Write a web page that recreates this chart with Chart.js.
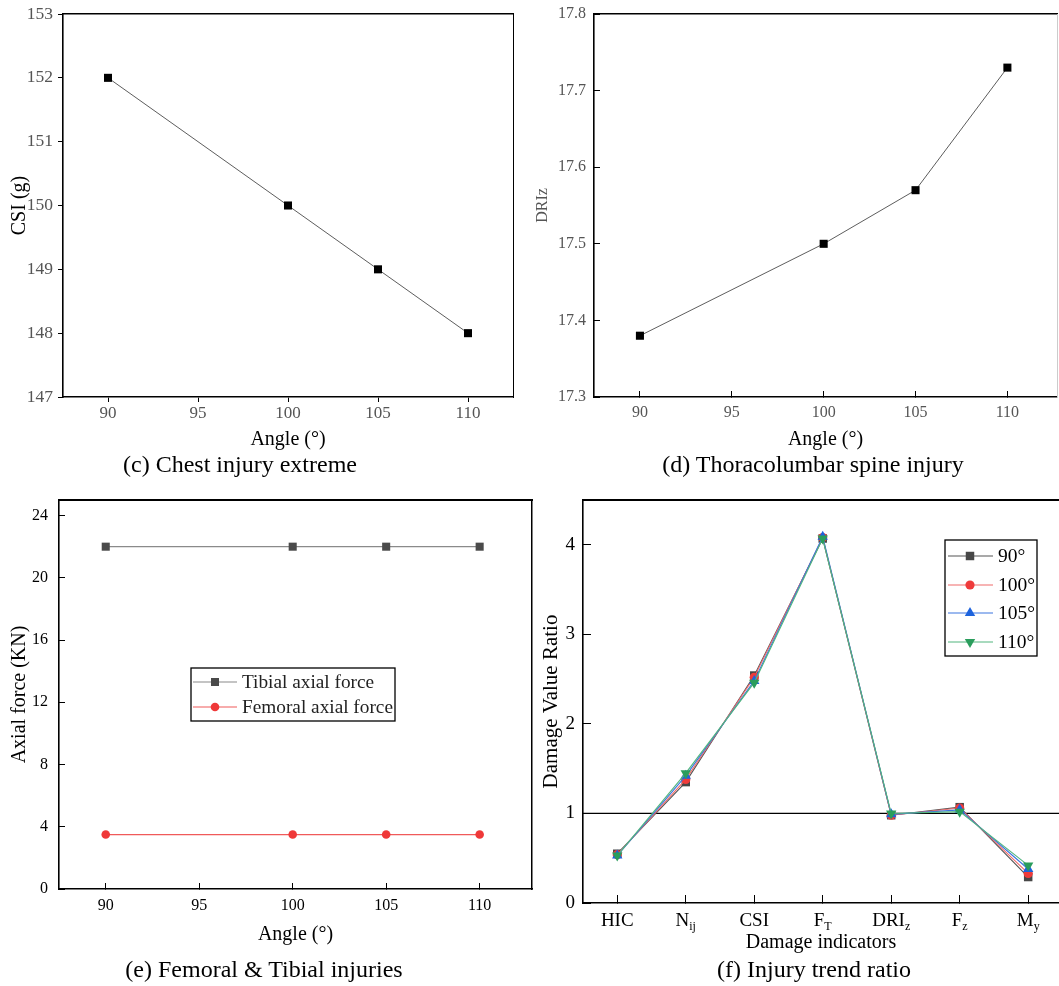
<!DOCTYPE html>
<html>
<head>
<meta charset="utf-8">
<title>Injury indicators versus seat angle</title>
<script src="https://cdn.jsdelivr.net/npm/chart.js@4.4.1/dist/chart.umd.min.js"></script>
<style>
  html, body { margin: 0; padding: 0; background: #fff; width: 1059px; height: 986px; overflow: hidden; }
  canvas { position: absolute; left: 0; top: 0; }
  .cap {
    position: absolute; white-space: nowrap; transform: translateX(-50%);
    font-family: "Liberation Serif", "Times New Roman", serif; font-size: 24px; line-height: 24px; color: #000;
  }
</style>
</head>
<body>
<canvas id="chestChart" width="1059" height="986"></canvas>
<canvas id="spineChart" width="1059" height="986"></canvas>
<canvas id="legChart" width="1059" height="986"></canvas>
<canvas id="ratioChart" width="1059" height="986"></canvas>

<div class="cap" style="left:240px; top:452px;">(c) Chest injury extreme</div>
<div class="cap" style="left:813px; top:452px;">(d) Thoracolumbar spine injury</div>
<div class="cap" style="left:264px; top:957px;">(e) Femoral &amp; Tibial injuries</div>
<div class="cap" style="left:814px; top:957px;">(f) Injury trend ratio</div>

<script>
// ---- data ----
const angles = [90, 100, 105, 110];
const angleTicks = [90, 95, 100, 105, 110];

const csiValues = [152, 150, 149, 148];
const csiTicks = [147, 148, 149, 150, 151, 152, 153];

const driValues = [17.38, 17.5, 17.57, 17.73];
const driTicks = [17.3, 17.4, 17.5, 17.6, 17.7, 17.8];

const tibialForce = [22, 22, 22, 22];
const femoralForce = [3.5, 3.5, 3.5, 3.5];
const forceTicks = [0, 4, 8, 12, 16, 20, 24];

const indicatorNames = ['HIC', 'N', 'CSI', 'F', 'DRI', 'F', 'M'];
const indicatorSubs = ['', 'ij', '', 'T', 'z', 'z', 'y'];
const indicatorIndex = [0, 1, 2, 3, 4, 5, 6];
const ratioTicks = [0, 1, 2, 3, 4];
const ratio90 = [0.55, 1.35, 2.54, 4.07, 0.98, 1.07, 0.29];
const ratio100 = [0.54, 1.38, 2.52, 4.08, 0.98, 1.06, 0.33];
const ratio105 = [0.53, 1.42, 2.48, 4.09, 0.99, 1.04, 0.38];
const ratio110 = [0.53, 1.45, 2.46, 4.07, 1.00, 1.02, 0.42];
const ratioSeriesNames = ['90°', '100°', '105°', '110°'];
const ratioThreshold = 1;

// ---- shared settings ----
const SERIF = '"Liberation Serif", "Times New Roman", serif';
Chart.defaults.font.family = SERIF;
Chart.defaults.color = '#000';

const common = {
  responsive: false,
  animation: false,
  devicePixelRatio: 1,
  events: [],
  plugins: { legend: { display: false }, tooltip: { enabled: false } }
};

const pairs = (xs, ys) => xs.map((x, i) => ({ x, y: ys[i] }));
const fixedTicks = list => scale => { scale.ticks = list.map(v => ({ value: v })); };

// fixed axis thickness; label overhang is already covered by the layout padding
const fixedSize = size => s => {
  if (s.isHorizontal()) s.height = size; else s.width = size;
  s.paddingTop = s.paddingBottom = s.paddingLeft = s.paddingRight = 0;
};

// frame edge drawn by an extra axis with no ticks
function frameAxis(position, color, width) {
  return {
    type: 'linear', position, display: true,
    grid: { display: false }, ticks: { display: false },
    border: { display: true, color, width },
    afterFit: fixedSize(0)
  };
}

function drawMarker(ctx, style, x, y, r, rot, color) {
  ctx.fillStyle = color;
  ctx.beginPath();
  if (style === 'rect') {
    const s = r * Math.SQRT1_2;
    ctx.rect(x - s, y - s, 2 * s, 2 * s);
  } else if (style === 'triangle') {
    let a = (rot || 0) * Math.PI / 180;
    for (let k = 0; k < 3; k++) {
      const px = x + Math.sin(a) * r, py = y - Math.cos(a) * r;
      if (k === 0) ctx.moveTo(px, py); else ctx.lineTo(px, py);
      a += 2 * Math.PI / 3;
    }
    ctx.closePath();
  } else {
    ctx.arc(x, y, r, 0, Math.PI * 2);
  }
  ctx.fill();
}

// framed legend placed inside the plot
const boxLegend = {
  id: 'boxLegend',
  afterDatasetsDraw(chart, args, o) {
    if (!o || !o.box) return;
    const ctx = chart.ctx;
    const [bx, by, bw, bh] = o.box;
    ctx.save();
    ctx.fillStyle = '#fff';
    ctx.fillRect(bx, by, bw, bh);
    ctx.strokeStyle = '#000';
    ctx.lineWidth = 1.3;
    ctx.strokeRect(bx, by, bw, bh);
    chart.data.datasets.forEach((ds, i) => {
      const y = o.rows[i];
      ctx.strokeStyle = ds.borderColor;
      ctx.lineWidth = ds.borderWidth;
      ctx.beginPath();
      ctx.moveTo(o.lineFrom, y);
      ctx.lineTo(o.lineTo, y);
      ctx.stroke();
      drawMarker(ctx, ds.pointStyle, o.markerX, y, ds.pointRadius, ds.pointRotation, ds.pointBackgroundColor);
      ctx.fillStyle = o.color;
      ctx.font = o.size + 'px ' + SERIF;
      ctx.textBaseline = 'middle';
      ctx.textAlign = 'left';
      ctx.fillText(ds.label, o.textX, y + 1);
    });
    ctx.restore();
  }
};

// horizontal reference level across the plot
const refLine = {
  id: 'refLine',
  beforeDatasetsDraw(chart, args, o) {
    if (!o || o.value === undefined) return;
    const { ctx, chartArea: a } = chart;
    const py = chart.scales.y.getPixelForValue(o.value);
    ctx.save();
    ctx.strokeStyle = o.color;
    ctx.lineWidth = o.width;
    ctx.beginPath();
    ctx.moveTo(a.left, py);
    ctx.lineTo(a.right, py);
    ctx.stroke();
    ctx.restore();
  }
};

// category names with subscripts under the x axis
const subLabels = {
  id: 'subLabels',
  afterDraw(chart, args, o) {
    if (!o || !o.names) return;
    const ctx = chart.ctx;
    const xs = chart.scales.x;
    const mainFont = o.size + 'px ' + SERIF;
    const subFont = o.subSize + 'px ' + SERIF;
    ctx.save();
    ctx.fillStyle = '#000';
    ctx.textBaseline = 'alphabetic';
    ctx.textAlign = 'left';
    o.names.forEach((name, i) => {
      const px = xs.getPixelForValue(o.positions[i]);
      const sub = o.subs[i];
      ctx.font = mainFont;
      const w1 = ctx.measureText(name).width;
      ctx.font = subFont;
      const w2 = sub ? ctx.measureText(sub).width : 0;
      const x0 = px - (w1 + w2) / 2;
      ctx.font = mainFont;
      ctx.fillText(name, x0, o.baseline);
      if (sub) {
        ctx.font = subFont;
        ctx.fillText(sub, x0 + w1, o.baseline + o.subShift);
      }
    });
    ctx.restore();
  }
};

// ---- (c) chest ----
new Chart(document.getElementById('chestChart'), {
  type: 'line',
  data: {
    datasets: [{
      label: 'CSI', data: pairs(angles, csiValues),
      borderColor: '#333', borderWidth: 0.8,
      pointStyle: 'rect', pointRadius: 5.7, pointBackgroundColor: '#000', pointBorderWidth: 0
    }]
  },
  options: {
    ...common,
    layout: { autoPadding: false, padding: { left: 7.5, top: 14, right: 546, bottom: 534 } },
    scales: {
      x: {
        type: 'linear', position: 'bottom', min: 87.5, max: 112.5,
        afterBuildTicks: fixedTicks(angleTicks), afterFit: fixedSize(55),
        grid: { drawOnChartArea: false, color: '#000', tickLength: 5 },
        border: { color: '#000', width: 1.6 },
        ticks: { autoSkip: false, maxRotation: 0, color: '#555', font: { size: 17 }, padding: 1 },
        title: { display: true, text: 'Angle (°)', font: { size: 20 }, padding: 0, color: '#000' }
      },
      y: {
        type: 'linear', position: 'left', min: 147, max: 153,
        afterBuildTicks: fixedTicks(csiTicks), afterFit: fixedSize(55.5),
        grid: { drawOnChartArea: false, color: '#000', tickLength: 5 },
        border: { color: '#000', width: 1.6 },
        ticks: { autoSkip: false, color: '#555', font: { size: 17.5 }, padding: 5 },
        title: { display: true, text: 'CSI (g)', font: { size: 20 }, padding: 0, color: '#000' }
      },
      x2: frameAxis('top', '#000', 1.6),
      y2: frameAxis('right', '#000', 1)
    }
  }
});

// ---- (d) thoracolumbar spine ----
new Chart(document.getElementById('spineChart'), {
  type: 'line',
  data: {
    datasets: [{
      label: 'DRIz', data: pairs(angles, driValues),
      borderColor: '#333', borderWidth: 0.8,
      pointStyle: 'rect', pointRadius: 5.7, pointBackgroundColor: '#000', pointBorderWidth: 0
    }]
  },
  options: {
    ...common,
    layout: { autoPadding: false, padding: { left: 533, top: 14, right: 2, bottom: 534 } },
    scales: {
      x: {
        type: 'linear', position: 'bottom', min: 87.5, max: 112.7,
        afterBuildTicks: fixedTicks(angleTicks), afterFit: fixedSize(55),
        grid: { drawOnChartArea: false, color: '#000', tickLength: -6 },
        border: { color: '#000', width: 1.6 },
        ticks: { autoSkip: false, maxRotation: 0, color: '#555', font: { size: 16 }, padding: 12.4 },
        title: { display: true, text: 'Angle (°)', font: { size: 20 }, padding: 0, color: '#000' }
      },
      y: {
        type: 'linear', position: 'left', min: 17.3, max: 17.8,
        afterBuildTicks: fixedTicks(driTicks), afterFit: fixedSize(61),
        grid: { drawOnChartArea: false, color: '#000', tickLength: -6 },
        border: { color: '#000', width: 1.6 },
        ticks: { autoSkip: false, color: '#555', font: { size: 16 }, padding: 14, callback: v => v.toFixed(1) },
        title: { display: true, text: 'DRIz', font: { size: 16 }, padding: 0, color: '#555' }
      },
      x2: frameAxis('top', '#000', 1.6),
      y2: frameAxis('right', '#ccc', 1)
    }
  }
});

// ---- (e) femoral & tibial ----
new Chart(document.getElementById('legChart'), {
  type: 'line',
  data: {
    datasets: [
      {
        label: 'Tibial axial force', data: pairs(angles, tibialForce),
        borderColor: '#8a8a8a', borderWidth: 1.2,
        pointStyle: 'rect', pointRadius: 5.7, pointBackgroundColor: '#4a4a4a', pointBorderWidth: 0
      },
      {
        label: 'Femoral axial force', data: pairs(angles, femoralForce),
        borderColor: '#f05a5a', borderWidth: 1.2,
        pointStyle: 'circle', pointRadius: 4.3, pointBackgroundColor: '#ef3838', pointBorderWidth: 0
      }
    ]
  },
  plugins: [boxLegend],
  options: {
    ...common,
    layout: { autoPadding: false, padding: { left: 8, top: 500, right: 527, bottom: 39 } },
    plugins: {
      ...common.plugins,
      boxLegend: { box: [191, 668, 204, 53], rows: [682, 707], lineFrom: 193, lineTo: 237, markerX: 215, textX: 242, size: 19.3, color: '#222' }
    },
    scales: {
      x: {
        type: 'linear', position: 'bottom', min: 87.5, max: 112.8,
        afterBuildTicks: fixedTicks(angleTicks), afterFit: fixedSize(58),
        grid: { drawOnChartArea: false, color: '#000', tickLength: -6 },
        border: { color: '#000', width: 1.6 },
        ticks: { autoSkip: false, maxRotation: 0, color: '#000', font: { size: 16 }, padding: 13.4 },
        title: { display: true, text: 'Angle (°)', font: { size: 20 }, padding: 0, color: '#000' }
      },
      y: {
        type: 'linear', position: 'left', min: 0, max: 25,
        afterBuildTicks: fixedTicks(forceTicks), afterFit: fixedSize(51),
        grid: { drawOnChartArea: false, color: '#000', tickLength: -6 },
        border: { color: '#000', width: 1.6 },
        ticks: { autoSkip: false, color: '#000', font: { size: 16 }, padding: 17 },
        title: { display: true, text: 'Axial force (KN)', font: { size: 20 }, padding: 0, color: '#000' }
      },
      x2: frameAxis('top', '#000', 2),
      y2: frameAxis('right', '#000', 1.5)
    }
  }
});

// ---- (f) trend ratio ----
const ratioStyles = [
  { line: '#555555', fill: '#474747', style: 'rect', r: 6, rot: 0 },
  { line: '#f06a6a', fill: '#ef3b3b', style: 'circle', r: 4.6, rot: 0 },
  { line: '#3a74e0', fill: '#1d63dd', style: 'triangle', r: 6, rot: 0 },
  { line: '#52b67f', fill: '#2a9d5c', style: 'triangle', r: 6, rot: 180 }
];
const ratioSeries = [ratio90, ratio100, ratio105, ratio110];

new Chart(document.getElementById('ratioChart'), {
  type: 'line',
  data: {
    datasets: ratioSeries.map((vals, i) => ({
      label: ratioSeriesNames[i],
      data: pairs(indicatorIndex, vals),
      order: ratioSeries.length - 1 - i,
      borderColor: ratioStyles[i].line, borderWidth: 1.1,
      pointStyle: ratioStyles[i].style, pointRotation: ratioStyles[i].rot,
      pointRadius: ratioStyles[i].r, pointBackgroundColor: ratioStyles[i].fill, pointBorderWidth: 0
    }))
  },
  plugins: [refLine, subLabels, boxLegend],
  options: {
    ...common,
    layout: { autoPadding: false, padding: { left: 538.9, top: 500, right: 0, bottom: 31 } },
    plugins: {
      ...common.plugins,
      refLine: { value: ratioThreshold, color: '#000', width: 1.3 },
      subLabels: { names: indicatorNames, subs: indicatorSubs, positions: indicatorIndex, size: 19, subSize: 12, baseline: 926, subShift: 4 },
      boxLegend: { box: [945, 540, 92, 116], rows: [556, 585, 613, 642], lineFrom: 948, lineTo: 993, markerX: 970, textX: 998, size: 19.5, color: '#000' }
    },
    scales: {
      x: {
        type: 'linear', position: 'bottom', min: -0.5, max: 6.45,
        afterBuildTicks: fixedTicks(indicatorIndex), afterFit: fixedSize(52),
        grid: { drawOnChartArea: false, color: '#000', tickLength: -8 },
        border: { color: '#000', width: 1.6 },
        ticks: { display: false, autoSkip: false },
        title: { display: true, text: 'Damage indicators', font: { size: 20 }, padding: 0, color: '#000' }
      },
      y: {
        type: 'linear', position: 'left', min: 0, max: 4.5,
        afterBuildTicks: fixedTicks(ratioTicks), afterFit: fixedSize(44.1),
        grid: { drawOnChartArea: false, color: '#000', tickLength: -8 },
        border: { color: '#000', width: 1.6 },
        ticks: { autoSkip: false, color: '#000', font: { size: 19 }, padding: 16 },
        title: { display: true, text: 'Damage Value Ratio', font: { size: 21 }, padding: 0, color: '#000' }
      },
      x2: frameAxis('top', '#000', 2)
    }
  }
});
</script>
</body>
</html>
